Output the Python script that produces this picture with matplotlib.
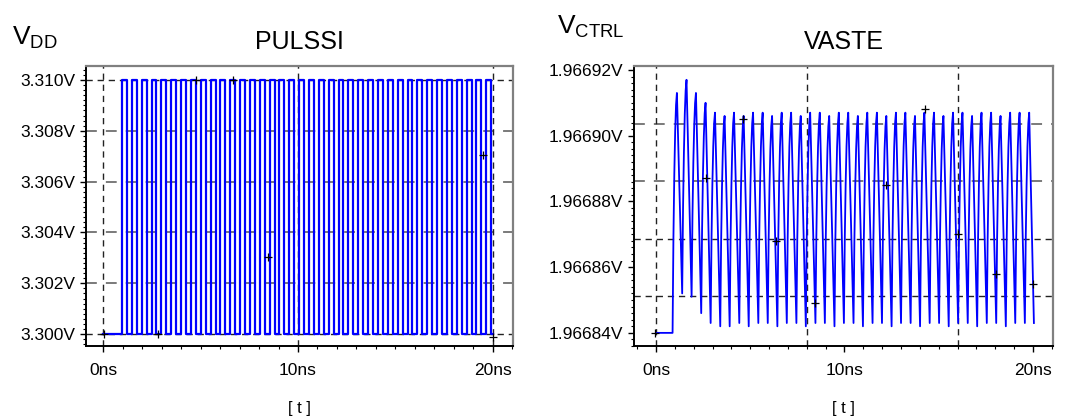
import matplotlib
matplotlib.use('Agg')
import matplotlib.pyplot as plt
from matplotlib.ticker import MultipleLocator, FuncFormatter
import numpy as np

plt.rcParams['font.family'] = ['Liberation Sans', 'DejaVu Sans']
plt.rcParams['mathtext.fontset'] = 'custom'
plt.rcParams['mathtext.rm'] = 'Liberation Sans'

# rising edges of the supply pulses (ns)
EDGE_NS = [0.97, 1.48, 1.98, 2.49, 2.99, 3.50, 4.00, 4.51, 5.01, 5.52,
           6.02, 6.53, 7.03, 7.54, 8.04, 8.55, 9.05, 9.56, 10.06, 10.57,
           11.07, 11.58, 12.08, 12.59, 13.09, 13.60, 14.10, 14.61, 15.11, 15.62,
           16.12, 16.63, 17.13, 17.64, 18.14, 18.65, 19.15, 19.66]
HIGH_NS = 0.25
VDD_LOW = 3.300
VDD_HIGH = 3.310
T_END = 20.0

# control voltage: level before start, per-cycle peak and trough
VCTRL_START = 1.96684
VCTRL_PEAK = [1.966913, 1.966917, 1.966913, 1.966910, 1.966907, 1.966906, 1.966907, 1.966906,
              1.966907, 1.966907, 1.966906, 1.966907, 1.966907, 1.966906, 1.966907, 1.966907,
              1.966906, 1.966907, 1.966907, 1.966906, 1.966907, 1.966907, 1.966906, 1.966907,
              1.966907, 1.966906, 1.966907, 1.966907, 1.966906, 1.966907, 1.966907, 1.966906,
              1.966907, 1.966907, 1.966906, 1.966907, 1.966907, 1.966907]
VCTRL_TROUGH = [1.966852, 1.966851, 1.966846, 1.966843, 1.966842, 1.966842, 1.966843, 1.966842,
                1.966843, 1.966843, 1.966842, 1.966843, 1.966843, 1.966842, 1.966843, 1.966843,
                1.966842, 1.966843, 1.966843, 1.966842, 1.966843, 1.966843, 1.966842, 1.966843,
                1.966843, 1.966842, 1.966843, 1.966843, 1.966842, 1.966843, 1.966843, 1.966842,
                1.966843, 1.966843, 1.966842, 1.966843, 1.966843, 1.966843]
VCTRL_SHIFT = -0.09
RISE_NS = 0.23
RISE_SHAPE = [0.0, 0.4, 0.66, 0.84, 0.95, 1.0]

# cursor markers
VDD_MARK_T = [0.05, 2.82, 4.77, 6.65, 8.46, 19.49, 20.0]
VDD_MARK_V = [3.3000, 3.3000, 3.3100, 3.3100, 3.30303, 3.30705, 3.2999]
VC_MARK_T = [-0.05, 2.65, 4.6, 6.37, 8.43, 12.2, 14.27, 16.0, 18.04, 20.0]
VC_MARK_V = [1.96684, 1.966887, 1.966905, 1.966868, 1.966849, 1.966885, 1.966908,
             1.96687, 1.966858, 1.966855]

# pulse waveform
t_vdd = [0.0]
v_vdd = [VDD_LOW]
for e in EDGE_NS:
    t_vdd += [e, e, e + HIGH_NS, e + HIGH_NS]
    v_vdd += [VDD_LOW, VDD_HIGH, VDD_HIGH, VDD_LOW]
t_vdd.append(T_END)
v_vdd.append(VDD_LOW)

# control waveform
t_vc = [0.0]
v_vc = [VCTRL_START]
prev = VCTRL_START
for i, e in enumerate(EDGE_NS):
    s = e + VCTRL_SHIFT
    nxt = EDGE_NS[i + 1] + VCTRL_SHIFT if i + 1 < len(EDGE_NS) else T_END + 0.05
    for k, f in enumerate(RISE_SHAPE):
        t_vc.append(s + RISE_NS * k / (len(RISE_SHAPE) - 1))
        v_vc.append(prev + (VCTRL_PEAK[i] - prev) * f)
    t_vc.append(nxt)
    v_vc.append(VCTRL_TROUGH[i])
    prev = VCTRL_TROUGH[i]

fig = plt.figure(figsize=(10.74, 4.18), dpi=100)
ax1 = fig.add_axes([0.0801, 0.1722, 0.3976, 0.6699])
ax2 = fig.add_axes([0.5903, 0.1722, 0.3901, 0.6699])

BLUE = '#0000ff'


def style(ax):
    for s in ['left', 'bottom']:
        ax.spines[s].set_color('black')
        ax.spines[s].set_linewidth(1.4)
    for s in ['top', 'right']:
        ax.spines[s].set_color('#808080')
        ax.spines[s].set_linewidth(1.6)
    ax.tick_params(which='major', direction='out', length=4.5, width=1, labelsize=12.5, pad=3)
    ax.tick_params(which='minor', direction='out', length=2.3, width=0.8)
    ax.tick_params(axis='x', which='major', pad=8)
    ax.xaxis.set_major_locator(MultipleLocator(10))
    ax.xaxis.set_minor_locator(MultipleLocator(1))
    ax.xaxis.set_major_formatter(FuncFormatter(lambda x, p: '%dns' % round(x)))
    ax.set_xlabel('[ t ]', fontsize=12, labelpad=16)


def dashed(ax, horiz, pos, dark):
    if dark:
        kw = dict(color='#222222', lw=1.0, ls=(0, (4.5, 3.5)))
    else:
        kw = dict(color='#707070', lw=1.3, ls=(0, (6, 5)))
    if horiz:
        ax.axhline(pos, zorder=1, **kw)
    else:
        ax.axvline(pos, zorder=1, **kw)


# left: PULSSI
style(ax1)
ax1.set_xlim(-0.872, 21.03)
ax1.set_ylim(3.29953, 3.31055)
ax1.yaxis.set_major_locator(MultipleLocator(0.002))
ax1.yaxis.set_minor_locator(MultipleLocator(0.0002))
ax1.yaxis.set_major_formatter(FuncFormatter(lambda y, p: '%.3fV' % y))
for y, d in zip([3.300, 3.302, 3.304, 3.306, 3.308, 3.310],
                [True, False, False, False, False, True]):
    dashed(ax1, True, y, d)
for x in [0, 10, 20]:
    dashed(ax1, False, x, True)
ax1.plot(t_vdd, v_vdd, color=BLUE, lw=1.6, zorder=3)
ax1.plot(VDD_MARK_T, VDD_MARK_V, '+', color='black', ms=6, mew=0.9, zorder=4)
ax1.set_title('PULSSI', fontsize=18, pad=12)
fig.text(12 / 1074, 1 - 45 / 418, r'$\mathregular{V_{DD}}$', fontsize=19, ha='left', va='baseline')

# right: VASTE
style(ax2)
ax2.set_xlim(-1.167, 21.06)
ax2.set_ylim(1.966836, 1.9669212)
ax2.yaxis.set_major_locator(MultipleLocator(0.00002))
ax2.yaxis.set_minor_locator(MultipleLocator(0.000002))
ax2.yaxis.set_major_formatter(FuncFormatter(lambda y, p: '%.5fV' % y))
for y, d in zip([1.9669035, 1.9668861, 1.9668687, 1.9668513], [False, False, True, True]):
    dashed(ax2, True, y, d)
for x in [0, 8, 16]:
    dashed(ax2, False, x, True)
ax2.plot(t_vc, v_vc, color=BLUE, lw=1.3, zorder=3)
ax2.plot(VC_MARK_T, VC_MARK_V, '+', color='black', ms=6, mew=0.9, zorder=4)
ax2.set_title('VASTE', fontsize=18, pad=12)
fig.text(557 / 1074, 1 - 34 / 418, r'$\mathregular{V_{CTRL}}$', fontsize=19, ha='left', va='baseline')

fig.savefig('out.png', dpi=100)
